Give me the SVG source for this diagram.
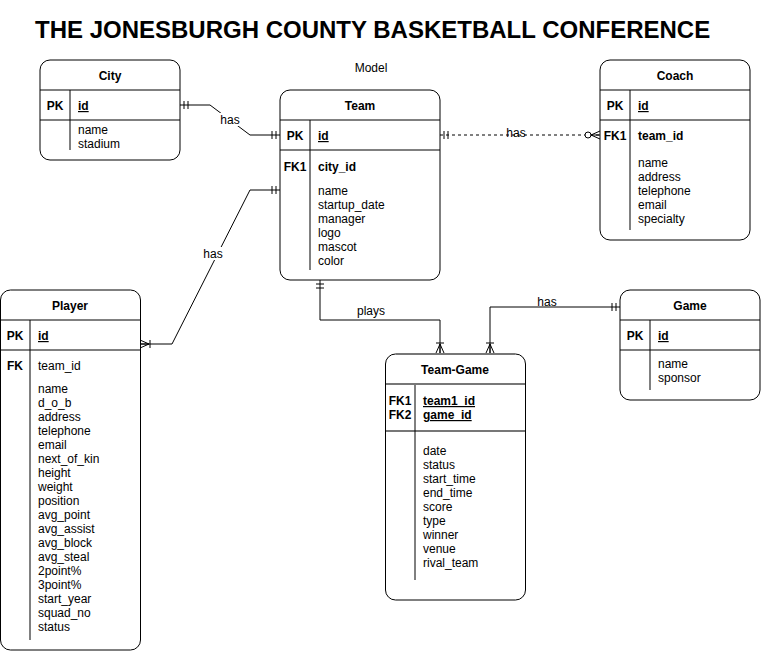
<svg xmlns="http://www.w3.org/2000/svg" width="782" height="652" viewBox="0 0 782 652">
<style>
text{font-family:"Liberation Sans",Arial,sans-serif;font-size:12px;fill:#000}
.b{font-weight:bold}
.c{text-anchor:middle}
.u{text-decoration:underline}
.box{fill:#fff;stroke:#000;stroke-width:1}
.ln{stroke:#000;stroke-width:1;fill:none}
.gl{stroke:#777;stroke-width:2;fill:none}
.con{stroke:#000;stroke-width:1;fill:none}
.dash{stroke-dasharray:3 3}
.title{font-size:24px;font-weight:bold}
</style>
<defs>
<marker id="one" markerUnits="userSpaceOnUse" viewBox="-12 -6 14 12" markerWidth="14" markerHeight="12" refX="0" refY="0" orient="auto-start-reverse">
<path d="M-4,-4V4M-8,-4V4" stroke="#000" fill="none"/>
</marker>
<marker id="many1" markerUnits="userSpaceOnUse" viewBox="-12 -6 14 12" markerWidth="14" markerHeight="12" refX="0" refY="0" orient="auto-start-reverse">
<path d="M0,-4L-9,0L0,4M0,0H-9M-10,-4V4" stroke="#000" fill="none"/>
</marker>
<marker id="zmany" markerUnits="userSpaceOnUse" viewBox="-18 -6 20 12" markerWidth="20" markerHeight="12" refX="0" refY="0" orient="auto-start-reverse">
<path d="M0,-4L-9,0L0,4M0,0H-9" stroke="#000" fill="none"/>
<circle cx="-12" cy="0" r="3" stroke="#000" fill="#fff"/>
</marker>
</defs>
<rect width="782" height="652" fill="#fff"/>
<text class="title" x="35" y="38">THE JONESBURGH COUNTY BASKETBALL CONFERENCE</text>
<text class="c" x="371" y="72">Model</text>

<g id="connectors">
<path class="con" d="M180,105H210L250,135H280" marker-start="url(#one)" marker-end="url(#one)"/>
<rect x="219" y="113" width="23" height="13" fill="#fff"/>
<text class="c" x="230" y="124">has</text>
<path class="con dash" d="M440,135H600" marker-start="url(#one)" marker-end="url(#zmany)"/>
<text class="c" x="516" y="137">has</text>
<path class="con" d="M280,190H250L172,344H140" marker-start="url(#one)" marker-end="url(#many1)"/>
<rect x="202" y="247" width="23" height="13" fill="#fff"/>
<text class="c" x="213" y="258">has</text>
<path class="con" d="M320,280V320H440V353" marker-start="url(#one)" marker-end="url(#many1)"/>
<text class="c" x="371" y="315">plays</text>
<path class="con" d="M620,307H490V353" marker-start="url(#one)" marker-end="url(#many1)"/>
<text class="c" x="547" y="306">has</text>
</g>

<g id="city">
<rect class="box" x="40" y="60" width="140" height="100" rx="10"/>
<path class="ln" d="M40,90H180M40,120H180M70,90V150"/>
<text class="b c" x="110" y="80">City</text>
<text class="b c" x="55" y="110">PK</text>
<text class="b u" x="78" y="110">id</text>
<text x="78" y="134">name</text>
<text x="78" y="148">stadium</text>
</g>

<g id="team">
<rect class="box" x="280" y="90" width="160" height="190" rx="10"/>
<path class="ln" d="M280,120H440M280,150H440M310,120V270"/>
<text class="b c" x="360" y="110">Team</text>
<text class="b c" x="295" y="140">PK</text>
<text class="b u" x="318" y="140">id</text>
<text class="b c" x="295" y="171">FK1</text>
<text class="b" x="318" y="171">city_id</text>
<text x="318" y="195">name</text>
<text x="318" y="209">startup_date</text>
<text x="318" y="223">manager</text>
<text x="318" y="237">logo</text>
<text x="318" y="251">mascot</text>
<text x="318" y="265">color</text>
</g>

<g id="coach">
<rect class="box" x="600" y="60" width="150" height="180" rx="10"/>
<path class="ln" d="M600,90H750M600,120H750M630,90V230"/>
<text class="b c" x="675" y="80">Coach</text>
<text class="b c" x="615" y="110">PK</text>
<text class="b u" x="638" y="110">id</text>
<text class="b c" x="615" y="140">FK1</text>
<text class="b" x="638" y="140">team_id</text>
<text x="638" y="167">name</text>
<text x="638" y="181">address</text>
<text x="638" y="195">telephone</text>
<text x="638" y="209">email</text>
<text x="638" y="223">specialty</text>
</g>

<g id="player">
<rect class="box" x="0.5" y="290" width="140" height="360" rx="10"/>
<path class="ln" d="M0,320H140M0,350H140M30,320V640"/>
<text class="b c" x="70" y="310">Player</text>
<text class="b c" x="15" y="340">PK</text>
<text class="b u" x="38" y="340">id</text>
<text class="b c" x="15" y="370">FK</text>
<text x="38" y="370">team_id</text>
<text x="38" y="393">name</text>
<text x="38" y="407">d_o_b</text>
<text x="38" y="421">address</text>
<text x="38" y="435">telephone</text>
<text x="38" y="449">email</text>
<text x="38" y="463">next_of_kin</text>
<text x="38" y="477">height</text>
<text x="38" y="491">weight</text>
<text x="38" y="505">position</text>
<text x="38" y="519">avg_point</text>
<text x="38" y="533">avg_assist</text>
<text x="38" y="547">avg_block</text>
<text x="38" y="561">avg_steal</text>
<text x="38" y="575">2point%</text>
<text x="38" y="589">3point%</text>
<text x="38" y="603">start_year</text>
<text x="38" y="617">squad_no</text>
<text x="38" y="631">status</text>
</g>

<g id="team-game">
<rect class="box" x="385.5" y="354" width="140" height="246" rx="10"/>
<path class="gl" d="M396,354H515M386,384H525M386,431H525"/>
<path class="ln" d="M415,385V580"/>
<text class="b c" x="455" y="374">Team-Game</text>
<text class="b c" x="400" y="405">FK1</text>
<text class="b c" x="400" y="419">FK2</text>
<text class="b u" x="423" y="405">team1_id</text>
<text class="b u" x="423" y="419">game_id</text>
<text x="423" y="455">date</text>
<text x="423" y="469">status</text>
<text x="423" y="483">start_time</text>
<text x="423" y="497">end_time</text>
<text x="423" y="511">score</text>
<text x="423" y="525">type</text>
<text x="423" y="539">winner</text>
<text x="423" y="553">venue</text>
<text x="423" y="567">rival_team</text>
</g>

<g id="game">
<rect class="box" x="620" y="290" width="140" height="110" rx="10"/>
<path class="ln" d="M620,320H760M620,350H760M650,320V390"/>
<text class="b c" x="690" y="310">Game</text>
<text class="b c" x="635" y="340">PK</text>
<text class="b u" x="658" y="340">id</text>
<text x="658" y="368">name</text>
<text x="658" y="382">sponsor</text>
</g>
</svg>
